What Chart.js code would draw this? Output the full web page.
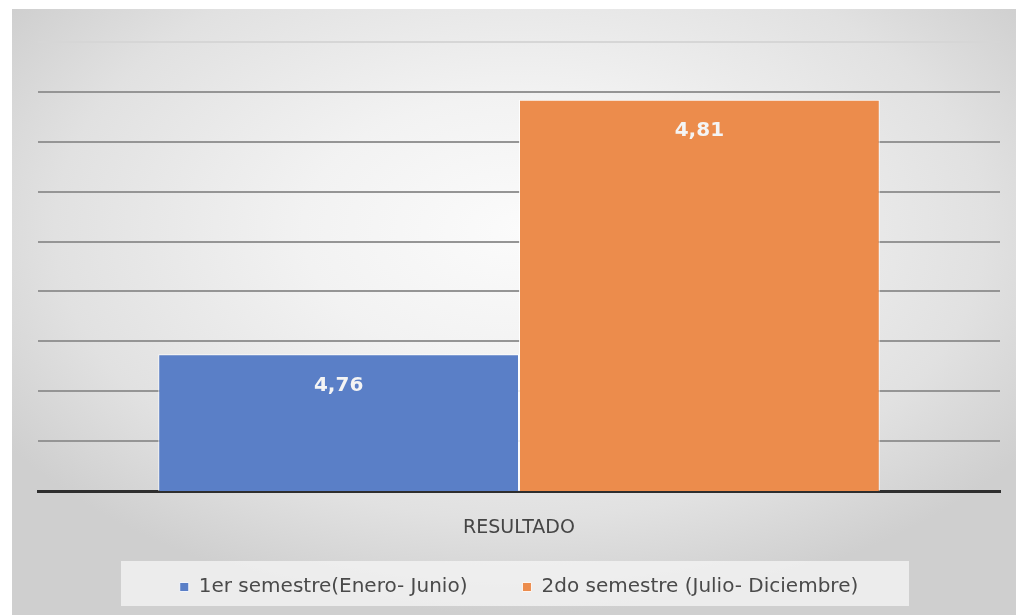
<!DOCTYPE html>
<html>
<head>
<meta charset="utf-8">
<script src="https://cdn.jsdelivr.net/npm/chart.js@4.4.0/dist/chart.umd.min.js"></script>
<style>
  html, body { margin: 0; padding: 0; background: #ffffff; }
  #wrap { position: relative; width: 1016px; height: 615px; }
  canvas { display: block; }
</style>
</head>
<body>
<div id="wrap"><canvas id="c" width="1016" height="615"></canvas></div>
<script>
// ---- data ----
const categories = ['RESULTADO'];
const seriesNames = ['1er semestre(Enero- Junio)', '2do semestre (Julio- Diciembre)'];
const serie1 = [4.7574];
const serie2 = [4.8084];
const seriesColors = ['#5A7FC7', '#EC8C4C'];
const axisMin = 4.73;
const axisMax = 4.82;
const axisStep = 0.01;

const FONT = '"DejaVu Sans", "Liberation Sans", Arial, sans-serif';

const bgPlugin = {
  id: 'bgPlugin',
  beforeDraw(chart) {
    const ctx = chart.ctx;
    ctx.save();
    ctx.fillStyle = '#ffffff';
    ctx.fillRect(0, 0, chart.width, chart.height);
    const x0 = 12, y0 = 9, w = chart.width - x0, h = chart.height - y0;
    ctx.beginPath();
    ctx.rect(x0, y0, w, h);
    ctx.clip();
    ctx.translate(520, 230);
    ctx.scale(1, 0.62);
    const g = ctx.createRadialGradient(0, 0, 0, 0, 0, 620);
    g.addColorStop(0, '#fbfbfb');
    g.addColorStop(0.35, '#f2f2f2');
    g.addColorStop(0.75, '#e1e1e1');
    g.addColorStop(1, '#cfcfcf');
    ctx.fillStyle = g;
    ctx.fillRect(-700, -700, 1400, 1400);
    ctx.restore();
    const lg = chart.legend;
    if (lg && lg.legendHitBoxes && lg.legendHitBoxes.length) {
      const hb = lg.legendHitBoxes[0];
      const cy = hb.top + hb.height / 2;
      ctx.save();
      ctx.fillStyle = 'rgba(245,245,245,0.75)';
      ctx.fillRect(121, cy - 26, 788, 45);
      ctx.restore();
    }
  }
};

const labelPlugin = {
  id: 'labelPlugin',
  afterDatasetsDraw(chart) {
    const ctx = chart.ctx;
    ctx.save();
    ctx.font = 'bold 20px ' + FONT;
    ctx.fillStyle = '#f4f4f4';
    ctx.textAlign = 'center';
    ctx.textBaseline = 'middle';
    chart.data.datasets.forEach((ds, i) => {
      const meta = chart.getDatasetMeta(i);
      meta.data.forEach((el, j) => {
        const v = ds.data[j];
        ctx.fillText(v.toFixed(2).replace('.', ','), el.x, el.y + 31);
      });
    });
    ctx.restore();
  }
};

new Chart(document.getElementById('c'), {
  type: 'bar',
  data: {
    labels: categories,
    datasets: [
      { label: seriesNames[0], data: serie1, backgroundColor: seriesColors[0], borderColor: 'rgba(255,255,255,0.85)', borderWidth: 1 },
      { label: seriesNames[1], data: serie2, backgroundColor: seriesColors[1], borderColor: 'rgba(255,255,255,0.85)', borderWidth: 1 }
    ]
  },
  options: {
    responsive: false,
    animation: false,
    devicePixelRatio: 1,
    layout: { padding: { top: 42, left: 38, right: 16, bottom: 8 } },
    datasets: { bar: { categoryPercentage: 0.75, barPercentage: 1.0 } },
    scales: {
      x: {
        grid: { display: false, drawTicks: false },
        border: { display: true, color: '#2e2e2e', width: 3 },
        ticks: { color: '#454545', padding: 26, font: { family: FONT, size: 19 } },
        afterFit(s) { s.height = 31; },
        afterUpdate(s) { s._computeLabelArea = () => undefined; }
      },
      y: {
        display: true,
        min: axisMin,
        max: axisMax,
        ticks: { display: false, stepSize: axisStep },
        border: { display: false },
        grid: {
          drawTicks: false,
          lineWidth: 2,
          color: (c) => {
            const v = c.tick ? c.tick.value : 0;
            if (Math.abs(v - axisMax) < 1e-6) return '#d6d6d6';
            if (Math.abs(v - axisMin) < 1e-6) return 'rgba(0,0,0,0)';
            return '#959595';
          }
        },
        afterFit(s) { s.width = 0; }
      }
    },
    plugins: {
      legend: {
        position: 'bottom',
        labels: {
          boxWidth: 9,
          boxHeight: 9,
          padding: 55,
          color: '#4a4a4a',
          font: { family: FONT, size: 20 }
        }
      },
      tooltip: { enabled: false }
    }
  },
  plugins: [bgPlugin, labelPlugin]
});
</script>
</body>
</html>
